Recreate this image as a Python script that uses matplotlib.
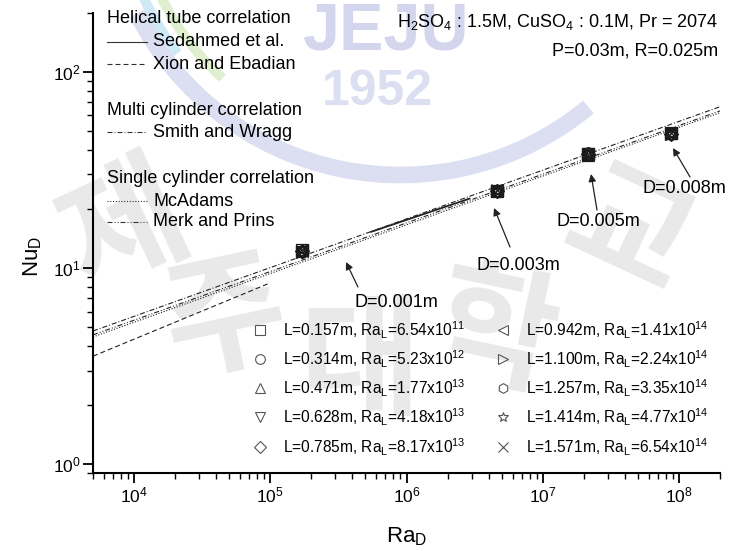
import matplotlib.pyplot as plt
from matplotlib.lines import Line2D
from matplotlib.patches import Arc
from matplotlib.ticker import LogLocator, NullFormatter

plt.rcParams['font.family'] = ['Liberation Sans', 'DejaVu Sans']
plt.rcParams['mathtext.fontset'] = 'custom'
plt.rcParams['mathtext.rm'] = 'Liberation Sans'
plt.rcParams['mathtext.it'] = 'Liberation Sans:italic'
plt.rcParams['mathtext.default'] = 'regular'

# measured Ra_D for each wire diameter
diameters = ['0.001', '0.003', '0.005', '0.008']
ra_d = [1.7e5, 4.6e6, 2.15e7, 8.8e7]

# cylinder lengths, their Ra_L and the measured Nu_D (one row per length)
lengths = ['0.157', '0.314', '0.471', '0.628', '0.785',
           '0.942', '1.100', '1.257', '1.414', '1.571']
ra_l_mant = ['6.54', '5.23', '1.77', '4.18', '8.17',
             '1.41', '2.24', '3.35', '4.77', '6.54']
ra_l_exp = [11, 12, 13, 13, 13, 14, 14, 14, 14, 14]
nu_d = [
    [12.3, 24.8, 38.1, 48.6],
    [12.1, 24.6, 38.4, 48.2],
    [12.4, 25.0, 37.9, 48.9],
    [12.0, 24.5, 38.2, 48.0],
    [12.2, 24.7, 38.0, 48.4],
    [12.3, 24.9, 38.3, 48.7],
    [12.1, 24.6, 38.1, 48.3],
    [12.2, 24.8, 37.8, 48.5],
    [12.4, 24.7, 38.2, 48.1],
    [12.2, 24.9, 38.0, 48.6],
]
markers = ['s', 'o', '^', 'v', 'D', '<', '>', 'h', '*', 'x']

# correlation lines (end points on the log-log plane)
sedahmed_ra, sedahmed_nu = [5.5e5, 2.9e6], [15.3, 22.6]
xion_ra, xion_nu = [5e3, 1e5], [3.55, 8.4]
smith_ra, smith_nu = [5e3, 2e8], [4.77, 66.5]
mcadams_ra, mcadams_nu = [5e3, 2e8], [4.45, 62.0]
merk_ra, merk_nu = [5e3, 2e8], [4.56, 63.3]

W, H = 732, 551
fig = plt.figure(figsize=(W / 100, H / 100), dpi=100)
ax = fig.add_axes([93 / W, 1 - 473 / H, 627 / W, 460 / H])
ax.set_facecolor('none')


def fx(px):
    return px / W


def fy(py):
    return 1 - py / H


# faint university watermark behind the plot
wm = dict(zorder=-1, ha='center', va='center')
fig.add_artist(Arc((fx(400), fy(-120)), 2 * 295 / W, 2 * 295 / H, theta1=214, theta2=302,
                   transform=fig.transFigure, color='#dcdef1', lw=12, zorder=-2))
fig.add_artist(Arc((fx(400), fy(-120)), 2 * 282 / W, 2 * 282 / H, theta1=198, theta2=226,
                   transform=fig.transFigure, color='#cfe9f6', lw=7, zorder=-2))
fig.add_artist(Arc((fx(400), fy(-120)), 2 * 266 / W, 2 * 266 / H, theta1=202, theta2=236,
                   transform=fig.transFigure, color='#e0efcf', lw=7, zorder=-2))
fig.text(fx(385), fy(33), 'JEJU', fontsize=48, fontweight='bold', color='#d4d6ee', **wm)
fig.text(fx(377), fy(92), '1952', fontsize=36, fontweight='bold', color='#dcdef1', **wm)
for ch, (cx, cy, rot) in zip('제주대학교', [(125, 230, 25), (225, 320, 12), (360, 365, 0),
                                         (495, 335, -12), (628, 235, -25)]):
    fig.text(fx(cx), fy(cy), ch, fontsize=95, fontweight='bold', color='#e9e9e9',
             rotation=rot, family=['Noto Sans CJK KR'], **wm)

line_kw = dict(color='#222222', lw=0.8)
ax.plot(sedahmed_ra, sedahmed_nu, ls='-', color='#222222', lw=1.3)
ax.plot(xion_ra, xion_nu, ls=(0, (4.5, 2.7)), **line_kw)
ax.plot(smith_ra, smith_nu, ls=(0, (4.5, 1.8, 0.9, 1.8)), **line_kw)
ax.plot(mcadams_ra, mcadams_nu, ls=(0, (1.0, 1.5)), **line_kw)
ax.plot(merk_ra, merk_nu, ls=(0, (4.5, 1.8, 0.9, 1.8, 0.9, 1.8)), **line_kw)

for mk, row in zip(markers, nu_d):
    ms = 7 if mk == 'D' else 9 if mk == '*' else 8
    ax.plot(ra_d, row, ls='none', marker=mk, ms=ms, mfc='none', mec='#1a1a1a', mew=0.9)

ax.set_xscale('log')
ax.set_yscale('log')
ax.set_xlim(5e3, 2e8)
ax.set_ylim(0.9, 200)

for side in ['top', 'right']:
    ax.spines[side].set_visible(False)
for side in ['left', 'bottom']:
    ax.spines[side].set_linewidth(1.5)
for axis in [ax.xaxis, ax.yaxis]:
    axis.set_major_locator(LogLocator(base=10, numticks=20))
    axis.set_minor_locator(LogLocator(base=10, subs=range(2, 10), numticks=100))
    axis.set_minor_formatter(NullFormatter())
ax.tick_params(which='major', direction='out', length=7, width=1.3, labelsize=12.5, pad=2)
ax.tick_params(which='minor', direction='out', length=4, width=1.0)

ax.set_xlabel('Ra$_D$', fontsize=16)
ax.set_ylabel('Nu$_D$', fontsize=16)
ax.xaxis.set_label_coords(0.5, -0.115)
ax.yaxis.set_label_coords(-0.078, 0.47)

# correlation legend with group headings
T = ax.transAxes
txt = dict(transform=T, fontsize=13, va='center')
groups = [
    (0.989, 'Helical tube correlation', None),
    (0.937, 'Sedahmed et al.', '-'),
    (0.889, 'Xion and Ebadian', (0, (4.5, 2.7))),
    (0.789, 'Multi cylinder correlation', None),
    (0.741, 'Smith and Wragg', (0, (4.5, 1.8, 0.9, 1.8))),
    (0.641, 'Single cylinder correlation', None),
    (0.591, 'McAdams', (0, (1.0, 1.5))),
    (0.546, 'Merk and Prins', (0, (4.5, 1.8, 0.9, 1.8, 0.9, 1.8))),
]
for yy, label, ls in groups:
    if ls is None:
        ax.text(0.0223, yy, label, **txt)
    else:
        ax.add_line(Line2D([0.0223, 0.0861], [yy, yy], transform=T, ls=ls, color='#333333', lw=0.8))
        ax.text(0.0957, yy, label, **txt)

# marker legend in two columns
rows_y = [0.311, 0.248, 0.185, 0.122, 0.0565]
for i, (mk, L, m, e) in enumerate(zip(markers, lengths, ra_l_mant, ra_l_exp)):
    col, r = divmod(i, 5)
    mx = [0.2663, 0.654][col]
    ms = 6 if mk == 'D' else 7.5 if mk == '*' else 7
    ax.add_line(Line2D([mx], [rows_y[r]], transform=T, marker=mk, ms=ms, mfc='none',
                       mec='#555555', mew=0.8, ls='none'))
    ax.text(mx + 0.0367, rows_y[r], f'L={L}m, Ra$_L$={m}x10$^{{{e}}}$',
            transform=T, fontsize=11.2, va='center')

ax.text(0.997, 0.980, 'H$_2$SO$_4$ : 1.5M, CuSO$_4$ : 0.1M, Pr = 2074', transform=T,
        fontsize=13, ha='right', va='center')
ax.text(0.997, 0.917, 'P=0.03m, R=0.025m', transform=T, fontsize=13, ha='right', va='center')

# arrows pointing at each diameter group, with the label under the tail
arrow_tip = [(0.4035, 0.4587), (0.6396, 0.5761), (0.7943, 0.650), (0.925, 0.7065)]
arrow_tail = [(0.4226, 0.4043), (0.6651, 0.4913), (0.8038, 0.5717), (0.9522, 0.6435)]
label_at = [(0.4833, 0.3717), (0.6778, 0.450), (0.8054, 0.5457), (0.9426, 0.6174)]
for d, tip, tail, lab in zip(diameters, arrow_tip, arrow_tail, label_at):
    ax.annotate('', xy=tip, xytext=tail, xycoords=T, textcoords=T,
                arrowprops=dict(arrowstyle='-|>', color='#222222', lw=0.9,
                                mutation_scale=11, shrinkA=0, shrinkB=0))
    ax.text(lab[0], lab[1], f'D={d}m', transform=T, fontsize=13, ha='center', va='center')

fig.savefig('out.png', dpi=100)
